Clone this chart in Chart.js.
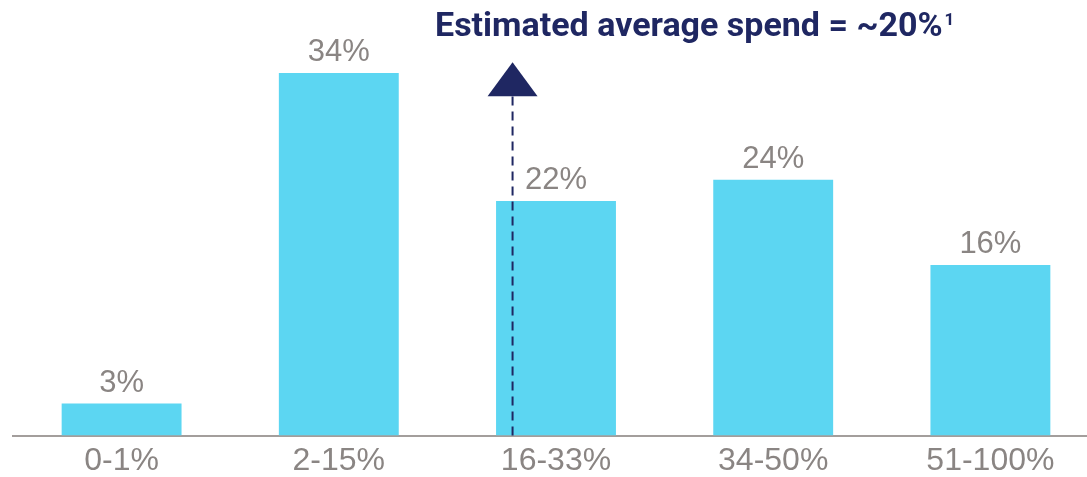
<!DOCTYPE html>
<html>
<head>
<meta charset="utf-8">
<script src="https://cdn.jsdelivr.net/npm/chart.js@4.4.1/dist/chart.umd.min.js"></script>
<style>
  html, body { margin: 0; padding: 0; background: #ffffff; overflow: hidden; }
  #wrap { width: 1087px; height: 477px; overflow: hidden; }
</style>
</head>
<body>
<div id="wrap">
  <canvas id="spendChart" width="1100" height="486"></canvas>
</div>
<script>
/* ------------------
    Data
-------------------*/
var categories = ['0-1%', '2-15%', '16-33%', '34-50%', '51-100%'];
var shares = [3, 34, 22, 24, 16];
var avgSpendIndex = [1.8];   // where the average falls along the category axis
var avgArrowTop = [35];      // arrow tip, in % units
var titleText = 'Estimated average spend = ~20%';
var titleNote = '1';

var barColor = '#5cd6f2';
var labelGrey = '#8a8583';
var navy = '#1f2762';

/* ------------------
    Labels + arrow + title plugin
-------------------*/
var overlay = {
  id: 'overlay',
  afterDatasetsDraw: function (chart) {
    var ctx = chart.ctx;
    var xs = chart.scales.x;
    var ys = chart.scales.y;

    // value labels above the bars
    ctx.save();
    ctx.fillStyle = labelGrey;
    ctx.font = '31px "Liberation Sans", Arial, sans-serif';
    ctx.textAlign = 'center';
    ctx.textBaseline = 'alphabetic';
    chart.getDatasetMeta(0).data.forEach(function (bar, i) {
      ctx.fillText(shares[i] + '%', bar.x, bar.y - 12);
    });
    ctx.restore();

    // dashed arrow for the average
    var ax = xs.getPixelForValue(avgSpendIndex[0]);
    var tipY = ys.getPixelForValue(avgArrowTop[0]);
    var baseY = ys.getPixelForValue(0);
    var headH = 34, headW = 50;
    ctx.save();
    ctx.strokeStyle = navy;
    ctx.lineWidth = 2;
    ctx.setLineDash([9, 6]);
    ctx.beginPath();
    ctx.moveTo(ax, baseY);
    ctx.lineTo(ax, tipY + headH);
    ctx.stroke();
    ctx.setLineDash([]);
    ctx.fillStyle = navy;
    ctx.beginPath();
    ctx.moveTo(ax, tipY);
    ctx.lineTo(ax - headW / 2, tipY + headH);
    ctx.lineTo(ax + headW / 2, tipY + headH);
    ctx.closePath();
    ctx.fill();

    // title text
    ctx.textAlign = 'left';
    ctx.textBaseline = 'alphabetic';
    ctx.font = 'bold 34px Roboto, "Liberation Sans", sans-serif';
    ctx.fillText(titleText, 435, 36);
    var w = ctx.measureText(titleText).width;
    ctx.font = 'bold 17px Roboto, "Liberation Sans", sans-serif';
    ctx.fillText(titleNote, 435 + w + 2, 25);
    ctx.restore();
  }
};

/* ------------------
    Bar chart
-------------------*/
var spendChart = new Chart(document.getElementById('spendChart'), {
  type: 'bar',
  data: {
    labels: categories,
    datasets: [
      {
        label: 'Share',
        data: shares,
        backgroundColor: barColor,
        borderWidth: 0,
        barPercentage: 1,
        categoryPercentage: 0.552
      }
    ]
  },
  options: {
    responsive: false,
    animation: false,
    layout: { padding: { left: 13, right: 1, top: 9, bottom: 0 } },
    plugins: {
      legend: { display: false },
      title: { display: false },
      tooltip: { enabled: false }
    },
    scales: {
      x: {
        grid: { display: false, drawTicks: false },
        border: { display: true, color: '#a39e9c', width: 2 },
        ticks: {
          color: labelGrey,
          padding: 6,
          font: { family: '"Liberation Sans", Arial, sans-serif', size: 32 }
        }
      },
      y: {
        display: false,
        min: 0,
        max: 40
      }
    }
  },
  plugins: [overlay]
});
</script>
</body>
</html>
